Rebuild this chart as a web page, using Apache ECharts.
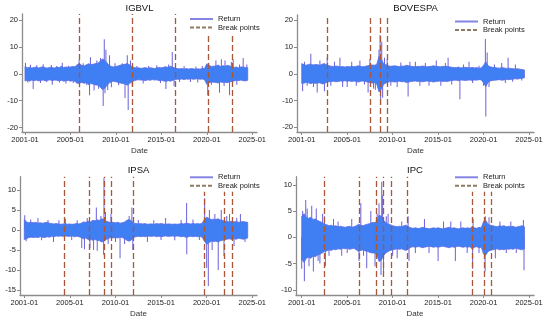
<!DOCTYPE html>
<html><head><meta charset="utf-8">
<script src="https://cdn.jsdelivr.net/npm/echarts@6/dist/echarts.min.js"></script>
<style>html,body{margin:0;padding:0;background:#fff}#c{width:550px;height:320px}</style>
</head><body><div id="c"></div>
<script>
// ---------- DATA ----------
const titles = ['IGBVL', 'BOVESPA', 'IPSA', 'IPC'];
const xTickValues = [2000, 2005, 2010, 2015, 2020, 2025];
const xTickLabels = ['2001-01', '2005-01', '2010-01', '2015-01', '2020-01', '2025-01'];
const yTicksIGBVL = [-20, -10, 0, 10, 20];
const yTicksBOVESPA = [-20, -10, 0, 10, 20];
const yTicksIPSA = [-15, -10, -5, 0, 5, 10];
const yTicksIPC = [-10, -5, 0, 5, 10];
const bandStart = 2000, bandStep = 0.25; // quarterly envelope of the dense return band

const igbvlHi = [2.8,2.3,2.5,2.2, 2.4,2.6,2.2,2.5, 2.7,2.3,2.2,2.5, 2.4,2.2,2.6,2.3, 2.9,2.4,2.6,2.5,
  2.6,2.8,2.7,3.5, 3.7,3.2,3.0,3.4, 3.8,3.5,3.6,3.9, 4.0,4.6,5.6,5.2, 4.2,3.2,2.8,2.6,
  2.8,3.0,3.3,3.5, 3.6,3.9,3.4,2.8, 2.4,2.2,2.3,2.1, 2.2,2.4,2.1,2.3, 2.2,2.0,2.3,2.4,
  2.3,2.5,2.7,2.4, 2.9,2.5,2.2,2.0, 1.9,2.0,1.8,2.0, 1.8,2.0,1.9,1.8, 1.9,1.8,2.0,2.1,
  3.8,3.2,2.8,2.9, 3.0,3.3,2.8,3.1, 2.9,3.2,3.0,2.7, 2.4,2.6,2.3,2.6, 2.6,2.4,2.3];
const igbvlLo = [-2.6,-2.4,-2.7,-2.3, -2.5,-2.3,-2.6,-2.4, -2.3,-2.6,-2.4,-2.2, -2.5,-2.3,-2.4,-2.6, -2.4,-2.7,-2.5,-2.4,
  -2.7,-2.5,-2.8,-3.6, -3.4,-3.2,-3.5,-3.3, -4.0,-3.6,-3.8,-4.1, -4.2,-4.8,-5.8,-5.4, -4.4,-3.4,-2.9,-2.7,
  -2.9,-3.2,-3.4,-3.6, -3.8,-4.2,-3.6,-3.0, -2.5,-2.3,-2.2,-2.3, -2.3,-2.5,-2.2,-2.4, -2.1,-2.3,-2.2,-2.5,
  -2.4,-2.6,-2.8,-2.5, -2.7,-2.4,-2.1,-2.0, -2.0,-1.9,-2.1,-1.9, -2.0,-1.8,-2.0,-1.9, -1.8,-2.0,-1.9,-2.2,
  -3.9,-3.3,-3.0,-3.1, -3.2,-3.4,-3.0,-3.2, -3.1,-3.3,-3.0,-2.8, -2.6,-2.4,-2.5,-2.3, -2.5,-2.6,-2.4];
const igbvlSpikes = [[2000.05,4.2],[2000.3,-3.2],[2000.6,3.4],[2000.9,-5.6],[2001.3,3.2],[2001.7,-3.4],[2002.0,3.6],
  [2002.4,-3.0],[2002.9,3.3],[2003.0,-4.0],[2003.5,3.0],[2003.8,-3.2],[2004.1,4.2],[2004.5,-3.6],[2004.8,3.1],
  [2005.3,-3.4],[2005.95,5.2],[2006.0,-5.0],[2006.4,4.0],[2006.8,-4.2],[2007.1,-8.0],[2007.2,6.2],[2007.6,-6.2],
  [2007.9,5.0],[2008.1,-5.5],[2008.3,6.0],[2008.6,-12.0],[2008.72,13.0],[2008.8,-7.2],[2008.9,9.0],[2009.1,-6.0],
  [2009.3,7.0],[2009.5,-5.0],[2009.9,4.0],[2010.3,-4.2],[2010.7,4.0],[2011.0,-9.0],[2011.25,7.0],[2011.35,-13.5],
  [2011.6,5.0],[2011.8,-4.5],[2012.3,3.0],[2013.0,-3.6],[2013.6,3.0],[2014.5,3.2],[2014.9,-3.4],[2015.5,-5.6],
  [2015.8,3.5],[2016.2,8.2],[2016.4,-4.6],[2017.0,-3.0],[2017.5,3.0],[2018.2,-3.0],[2018.8,2.8],[2019.0,-3.2],
  [2019.5,3.0],[2020.1,-8.0],[2020.2,4.2],[2020.5,-4.0],[2021.0,5.0],[2021.4,-7.0],[2021.6,5.5],[2021.9,-4.5],
  [2022.0,5.0],[2022.5,-8.0],[2022.7,4.5],[2022.9,5.5],[2023.3,-4.0],[2023.6,3.5],[2024.0,6.0],[2024.4,3.5]];
const igbvlBreaks = [2005.94, 2011.80, 2016.50, 2020.13, 2022.80];

const bovespaHi = [3.8,3.4,3.2,3.5, 3.6,3.3,3.5,3.4, 3.2,3.6,3.8,3.3, 3.0,2.8,2.7,2.9, 2.8,2.6,2.7,2.5,
  2.7,2.6,2.8,2.6, 2.8,3.0,2.7,2.6, 2.8,3.0,3.2,3.3, 3.2,3.5,6.5,5.5, 3.8,3.4,3.0,2.8,
  2.9,3.0,2.8,2.7, 2.9,2.8,3.2,3.0, 2.8,2.7,2.6,2.8, 2.7,2.9,2.8,2.6, 2.7,2.8,3.0,2.8,
  2.7,2.6,2.8,2.7, 2.8,2.6,2.4,2.3, 2.3,2.5,2.2,2.3, 2.4,2.3,2.2,2.4, 2.2,2.3,2.1,2.2,
  3.2,4.5,3.0,2.6, 2.4,2.3,2.2,2.1, 2.3,2.2,2.0,2.1, 2.0,1.9,1.8,1.9, 1.7,1.6,1.4];
const bovespaLo = [-3.6,-3.5,-3.3,-3.4, -3.7,-3.4,-3.6,-3.5, -3.4,-3.8,-3.6,-3.2, -3.0,-2.9,-2.8,-3.0, -2.9,-2.7,-2.8,-2.6,
  -2.8,-2.7,-2.9,-2.7, -2.9,-3.1,-2.8,-2.7, -2.9,-3.1,-3.3,-3.5, -3.4,-3.8,-6.8,-5.8, -4.0,-3.5,-3.1,-2.9,
  -3.0,-3.1,-2.9,-2.8, -3.0,-2.9,-3.3,-3.1, -2.9,-2.8,-2.7,-2.9, -2.8,-3.0,-2.9,-2.7, -2.8,-2.9,-3.1,-2.9,
  -2.8,-2.7,-2.9,-2.8, -2.9,-2.7,-2.5,-2.4, -2.4,-2.6,-2.3,-2.4, -2.5,-2.4,-2.3,-2.5, -2.3,-2.4,-2.2,-2.3,
  -3.4,-4.8,-3.2,-2.7, -2.5,-2.4,-2.3,-2.2, -2.4,-2.3,-2.1,-2.2, -2.1,-2.0,-1.9,-2.0, -1.8,-1.7,-1.5];
const bovespaSpikes = [[2000.1,-6.5],[2000.3,4.5],[2000.6,-4.5],[2001.0,7.5],[2001.3,-5.0],[2001.7,-7.0],[2002.0,5.0],
  [2002.5,-6.5],[2002.8,6.0],[2003.2,-4.5],[2003.6,4.5],[2004.2,6.0],[2004.5,-5.0],[2005.0,-5.0],[2005.5,4.5],
  [2006.0,-4.5],[2006.4,5.0],[2006.9,-4.0],[2007.3,-7.0],[2007.5,5.5],[2007.9,-5.5],[2008.1,-6.0],[2008.5,9.0],
  [2008.62,14.5],[2008.68,-11.7],[2008.8,12.0],[2008.9,-9.0],[2009.1,6.0],[2009.4,5.5],[2009.8,-4.5],[2010.5,-5.0],
  [2010.9,4.2],[2011.7,-8.5],[2011.9,4.5],[2012.5,4.5],[2013.0,-4.5],[2013.6,4.0],[2014.0,-4.5],[2014.8,5.0],
  [2015.3,-4.5],[2015.8,4.0],[2016.1,6.0],[2016.5,-4.0],[2017.4,-9.5],[2017.8,3.5],[2018.4,4.5],[2018.8,-3.5],
  [2019.5,3.0],[2020.0,-4.5],[2020.2,13.0],[2020.25,-16.0],[2020.4,8.0],[2020.6,-5.0],[2021.2,3.5],[2022.0,4.0],
  [2022.4,-3.5],[2022.7,6.0],[2023.2,-3.0],[2023.5,3.5],[2024.2,-2.5]];
const bovespaBreaks = [2002.82, 2007.55, 2008.65, 2009.42];

const ipsaHi = [2.6,2.0,1.8,1.9, 1.8,1.9,1.7,1.8, 1.7,1.8,1.9,1.7, 1.6,1.5,1.6,1.5, 1.4,1.5,1.6,1.4,
  1.5,1.4,1.5,1.6, 1.5,1.7,2.0,1.9, 2.2,2.0,2.4,2.3, 2.5,2.4,2.8,2.6, 2.2,2.0,1.8,1.9,
  1.8,1.9,1.7,1.8, 2.0,2.4,2.6,2.3, 1.7,1.6,1.5,1.6, 1.5,1.6,1.4,1.5, 1.5,1.4,1.6,1.5,
  1.6,1.5,1.4,1.5, 1.5,1.4,1.5,1.4, 1.5,1.6,1.5,1.7, 1.6,1.5,1.6,1.5, 1.6,1.5,1.7,2.6,
  3.2,2.9,2.6,2.7, 2.6,2.8,2.5,2.4, 2.2,2.1,2.0,2.2, 2.0,2.1,1.9,2.0, 2.1,2.0,1.9];
const ipsaLo = [-2.4,-2.2,-1.9,-1.8, -1.9,-1.8,-1.9,-1.7, -1.8,-1.9,-1.7,-1.8, -1.6,-1.7,-1.5,-1.6, -1.5,-1.6,-1.5,-1.6,
  -1.6,-1.5,-1.7,-1.6, -1.7,-1.9,-2.2,-2.0, -2.4,-2.3,-2.6,-2.4, -2.6,-2.7,-3.0,-2.8, -2.4,-2.1,-1.9,-2.0,
  -1.9,-2.0,-1.8,-1.9, -2.2,-2.6,-2.8,-2.5, -1.8,-1.7,-1.6,-1.7, -1.6,-1.7,-1.5,-1.6, -1.6,-1.5,-1.7,-1.6,
  -1.7,-1.6,-1.5,-1.6, -1.6,-1.5,-1.6,-1.5, -1.6,-1.7,-1.6,-1.9, -1.7,-1.6,-1.7,-1.6, -1.7,-1.6,-1.8,-2.8,
  -3.6,-3.2,-2.8,-2.9, -2.8,-3.0,-2.7,-2.6, -2.4,-2.3,-2.2,-2.4, -2.2,-2.3,-2.1,-2.2, -2.3,-2.2,-2.0];
const ipsaSpikes = [[2000.05,3.7],[2000.2,-2.8],[2000.7,2.6],[2001.5,3.0],[2001.9,-2.6],[2002.6,2.5],[2003.2,-3.0],
  [2003.8,2.4],[2004.5,2.8],[2005.2,-2.5],[2005.8,2.4],[2006.3,-4.5],[2006.6,-4.8],[2006.9,3.0],[2007.2,-4.6],
  [2007.6,-5.0],[2007.9,5.6],[2008.0,-5.2],[2008.4,3.5],[2008.7,-6.2],[2008.74,13.0],[2008.9,4.5],[2009.2,-3.5],
  [2009.5,4.0],[2010.0,-3.0],[2010.5,-7.1],[2011.0,-3.5],[2011.5,3.5],[2011.8,5.6],[2011.9,-5.0],[2012.5,2.5],
  [2013.5,-3.0],[2014.2,2.4],[2015.0,-2.5],[2015.5,3.0],[2016.5,-2.6],[2017.2,2.5],[2017.8,6.7],[2017.82,-6.1],
  [2018.5,2.6],[2019.2,-2.5],[2019.78,7.9],[2020.0,-9.5],[2020.18,-14.0],[2020.3,5.0],[2020.6,-5.0],[2020.9,4.0],
  [2021.27,-10.0],[2021.6,5.0],[2021.9,-6.5],[2022.2,3.5],[2022.5,4.0],[2023.0,-4.0],[2023.3,3.0],[2023.7,4.0],
  [2024.2,-3.0]];
const ipsaBreaks = [2004.43, 2007.13, 2008.74, 2009.51, 2011.92, 2019.78, 2021.93, 2022.81];

const ipcHi = [4.0,4.5,3.8,3.6, 3.8,3.4,3.5,3.2, 3.0,2.8,2.5,2.4, 2.2,2.3,2.1,2.2, 2.0,2.1,2.0,1.9,
  2.0,2.1,1.9,2.0, 2.2,2.5,2.3,2.2, 2.4,2.5,2.6,2.8, 2.8,3.0,4.2,4.0, 3.2,2.8,2.5,2.4,
  2.2,2.1,2.0,2.1, 2.0,2.2,2.3,2.0, 1.8,1.7,1.8,1.7, 1.7,1.9,1.8,1.7, 1.6,1.7,1.8,1.7,
  1.8,1.7,1.6,1.7, 1.8,1.9,1.7,1.8, 1.7,1.6,1.7,1.8, 1.7,1.8,1.7,2.0, 1.8,1.7,1.9,1.8,
  3.0,3.2,2.5,2.3, 2.2,2.1,2.0,2.2, 2.1,2.2,2.0,2.1, 2.0,2.1,1.9,2.0, 2.1,2.2,2.0];
const ipcLo = [-4.2,-4.8,-4.0,-3.8, -4.0,-3.6,-3.7,-3.4, -3.2,-3.0,-2.7,-2.6, -2.4,-2.5,-2.3,-2.4, -2.2,-2.3,-2.1,-2.2,
  -2.1,-2.3,-2.2,-2.1, -2.4,-2.7,-2.5,-2.4, -2.6,-2.7,-2.9,-3.0, -3.0,-3.3,-4.6,-4.4, -3.5,-3.0,-2.7,-2.5,
  -2.4,-2.3,-2.2,-2.3, -2.2,-2.4,-2.5,-2.2, -1.9,-1.8,-1.9,-1.8, -1.8,-2.0,-1.9,-1.8, -1.7,-1.8,-1.9,-1.8,
  -1.9,-1.8,-1.7,-1.8, -1.9,-2.0,-1.8,-1.9, -1.8,-1.7,-1.8,-1.9, -1.8,-1.9,-1.8,-2.2, -1.9,-1.8,-2.0,-1.9,
  -3.2,-3.4,-2.7,-2.5, -2.4,-2.3,-2.2,-2.4, -2.3,-2.4,-2.2,-2.3, -2.2,-2.3,-2.1,-2.2, -2.3,-2.4,-2.2];
const ipcSpikes = [[2000.0,-6.0],[2000.1,5.0],[2000.29,-8.4],[2000.44,7.1],[2000.6,5.5],[2000.8,-5.5],[2001.1,6.0],
  [2001.28,-6.5],[2001.6,5.5],[2001.8,-4.5],[2002.0,-5.0],[2002.3,4.5],[2002.5,4.0],[2002.6,-5.5],[2003.0,-3.5],
  [2003.5,3.5],[2004.0,3.0],[2004.4,-3.5],[2005.0,-3.0],[2005.5,3.5],[2006.3,-4.5],[2006.5,6.5],[2006.8,-3.5],
  [2007.15,-5.9],[2007.6,5.0],[2008.06,-5.5],[2008.3,4.5],[2008.5,6.5],[2008.72,-7.2],[2008.8,10.6],[2008.9,8.0],
  [2009.0,-6.5],[2009.3,4.0],[2009.5,4.5],[2010.0,-3.5],[2010.5,-4.0],[2011.0,3.0],[2011.7,4.0],[2011.8,-4.5],
  [2012.5,-3.0],[2013.5,3.5],[2014.0,-3.0],[2015.0,-4.5],[2015.6,3.0],[2016.4,3.0],[2016.9,-4.5],[2017.5,3.0],
  [2018.2,-3.0],[2018.8,-6.0],[2018.85,3.5],[2019.5,-3.0],[2020.17,-6.5],[2020.2,4.0],[2020.6,3.8],[2021.3,-4.0],
  [2021.8,3.0],[2022.5,-3.0],[2023.0,3.0],[2023.6,-3.0],[2024.38,3.3],[2024.45,-6.3]];
const ipcBreaks = [2002.45, 2006.30, 2008.25, 2008.98, 2009.90, 2011.58, 2018.81, 2020.13, 2020.82];

// ---------- LAYOUT / STYLE ----------
const panels = [
  {hi: igbvlHi, lo: igbvlLo, spikes: igbvlSpikes, breaks: igbvlBreaks, yTicks: yTicksIGBVL,
   box: {left: 22, top: 14, width: 235, height: 118}, x: [1999.67, 2025.52], y: [-21.7, 22.4],
   legend: {left: 186, top: 13}, title: {x: 139.5, top: 3}},
  {hi: bovespaHi, lo: bovespaLo, spikes: bovespaSpikes, breaks: bovespaBreaks, yTicks: yTicksBOVESPA,
   box: {left: 297, top: 15, width: 237, height: 117}, x: [1999.48, 2025.55], y: [-21.8, 22.0],
   legend: {left: 451, top: 15.5}, title: {x: 415.5, top: 3.5}},
  {hi: ipsaHi, lo: ipsaLo, spikes: ipsaSpikes, breaks: ipsaBreaks, yTicks: yTicksIPSA,
   box: {left: 20, top: 176.7, width: 237, height: 118.3}, x: [1999.53, 2025.52], y: [-16.25, 13.3],
   legend: {left: 186, top: 171.3}, title: {x: 138.5, top: 165.5}},
  {hi: ipcHi, lo: ipcLo, spikes: ipcSpikes, breaks: ipcBreaks, yTicks: yTicksIPC,
   box: {left: 296, top: 176.7, width: 238, height: 118.3}, x: [1999.37, 2025.55], y: [-11.0, 11.54],
   legend: {left: 451, top: 171.3}, title: {x: 415, top: 165.5}}
];
const FONT = '"Liberation Sans", Arial, sans-serif';
const AXIS_COLOR = '#8c8c8c';
const BAND_COLOR = '#3f7ef3';
const BAND_EDGE = '#5d6ce4';
const SPIKE_COLOR = '#6a62da';
const RETURN_LEGEND = '#8585e2';
const BREAK_COLOR = '#a9573a';

const grid = [], xAxis = [], yAxis = [], series = [], legend = [], title = [];
panels.forEach((p, i) => {
  grid.push(Object.assign({containLabel: false}, p.box));
  xAxis.push({
    type: 'value', gridIndex: i, min: p.x[0], max: p.x[1],
    axisLine: {show: true, onZero: false, lineStyle: {color: AXIS_COLOR, width: 1.3}},
    axisTick: {show: true, length: 3, customValues: xTickValues, lineStyle: {color: AXIS_COLOR, width: 1}},
    axisLabel: {customValues: xTickValues, formatter: v => xTickLabels[xTickValues.indexOf(v)] || '',
      fontSize: 7.5, color: '#222', margin: 4, fontFamily: FONT},
    splitLine: {show: false},
    name: 'Date', nameLocation: 'middle', nameGap: 15,
    nameTextStyle: {fontSize: 8, color: '#333', fontFamily: FONT}
  });
  yAxis.push({
    type: 'value', gridIndex: i, min: p.y[0], max: p.y[1],
    axisLine: {show: true, onZero: false, lineStyle: {color: AXIS_COLOR, width: 1.3}},
    axisTick: {show: true, length: 3, customValues: p.yTicks, lineStyle: {color: AXIS_COLOR, width: 1}},
    axisLabel: {customValues: p.yTicks, fontSize: 7.5, color: '#222', margin: 4, fontFamily: FONT},
    splitLine: {show: false}
  });
  // spikes (single-day extremes)
  series.push({
    type: 'bar', name: '_spike' + i, xAxisIndex: i, yAxisIndex: i, barWidth: 1,
    data: p.spikes, itemStyle: {color: SPIKE_COLOR}, silent: true, z: 2, animation: false
  });
  // dense band between the quarterly lo and hi envelopes: one polygon through all rows
  const bandData = p.hi.map((v, j) => [bandStart + j * bandStep, v, p.lo[j]]);
  series.push({
    type: 'custom', name: '_band' + i, xAxisIndex: i, yAxisIndex: i, silent: true, z: 3, animation: false,
    encode: {x: 0, y: [1, 2]},
    data: bandData,
    renderItem: (params, api) => {
      if (params.dataIndexInside !== 0) return null;
      const n = params.dataInsideLength;
      const top = [], bottom = [];
      for (let k = 0; k < n; k++) {
        top.push(api.coord([api.value(0, k), api.value(1, k)]));
        bottom.push(api.coord([api.value(0, k), api.value(2, k)]));
      }
      return {
        type: 'polygon', shape: {points: top.concat(bottom.reverse())},
        style: {fill: BAND_COLOR, stroke: BAND_EDGE, lineWidth: 0.8}
      };
    }
  });
  // legend entries
  series.push({
    type: 'line', name: 'Return', xAxisIndex: i, yAxisIndex: i, data: [], symbol: 'none',
    itemStyle: {color: RETURN_LEGEND}, lineStyle: {color: RETURN_LEGEND, width: 1.3}, animation: false
  });
  series.push({
    type: 'line', name: 'Break points', xAxisIndex: i, yAxisIndex: i, data: [], symbol: 'none',
    itemStyle: {color: '#8f7a62'}, lineStyle: {color: '#8f7a62', width: 1.2, type: [4, 2]}, animation: false, z: 3.5,
    markLine: {
      silent: true, symbol: ['none', 'none'], label: {show: false}, animation: false,
      lineStyle: {color: BREAK_COLOR, width: 1.3, type: [6, 3]},
      data: p.breaks.map(b => ({xAxis: b}))
    }
  });
  legend.push({
    data: ['Return', 'Break points'],
    orient: 'vertical', left: p.legend.left, top: p.legend.top, z: 10,
    itemWidth: 23, itemHeight: 8, itemGap: 0.5, padding: [2, 3, 2, 3], backgroundColor: '#fff',
    itemStyle: {opacity: 0, borderWidth: 0},
    selectedMode: false, textStyle: {fontSize: 7.5, color: '#222', fontFamily: FONT}
  });
  title.push({
    text: titles[i], left: p.title.x, top: p.title.top, textAlign: 'center', padding: 0,
    textStyle: {fontSize: 9.5, fontWeight: 'normal', color: '#111', fontFamily: FONT}
  });
});

const chart = echarts.init(document.getElementById('c'), null, {renderer: 'canvas'});
chart.setOption({
  backgroundColor: '#fff', animation: false,
  textStyle: {fontFamily: FONT},
  title, legend, grid, xAxis, yAxis, series
});
</script></body></html>
